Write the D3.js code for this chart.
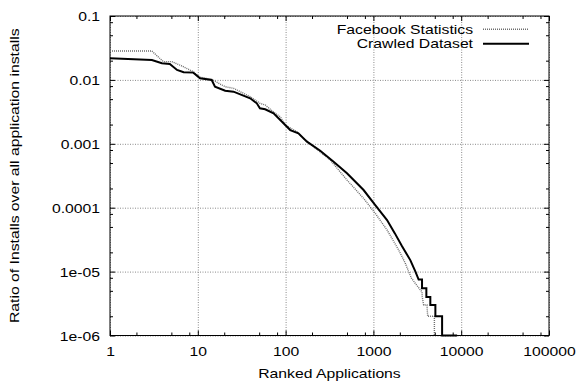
<!DOCTYPE html>
<html>
<head>
<meta charset="utf-8">
<script src="https://cdn.jsdelivr.net/npm/d3@7"></script>
<style>
  body { margin: 0; background: #fff; }
  text { font-family: "Liberation Sans", Arial, Helvetica, sans-serif; font-size: 12.8px; fill: #000; }
</style>
</head>
<body>
<svg id="chart" width="579" height="383"></svg>
<script>
// tick values / labels
const xTicks = [1, 10, 100, 1000, 10000, 100000];
const xTickLabels = ["1", "10", "100", "1000", "10000", "100000"];
const yTicks = [0.1, 0.01, 0.001, 0.0001, 1e-5, 1e-6];
const yTickLabels = ["0.1", "0.01", "0.001", "0.0001", "1e-05", "1e-06"];
const minorSteps = [2, 5, 8];
const seriesNames = ["Facebook Statistics", "Crawled Dataset"];

// Facebook Statistics (dotted grey)
const fbRank = [1, 3, 4.05, 5.05, 6.6, 8.9, 10.6, 14.4, 17.9, 20.5, 25.5, 39.5, 51, 58.5, 76, 87, 99, 134, 160, 208, 323, 500, 773, 1050, 1430, 1940, 2310, 2520, 2700, 3010, 3580, 3600, 3735, 4080, 4150, 4950, 4950];
const fbRatio = [0.0283, 0.0283, 0.0193, 0.0193, 0.0165, 0.0134, 0.0110, 0.0102, 0.00862, 0.00783, 0.00739, 0.00546, 0.0043, 0.00405, 0.0030, 0.00265, 0.00197, 0.00155, 0.00122, 0.000901, 0.000557, 0.000271, 0.00014, 0.0000817, 0.0000448, 0.0000218, 0.0000135, 0.00001, 0.000008, 0.0000065, 0.0000048, 0.000004, 0.000003, 0.000003, 0.000002, 0.000002, 0.000001];

// Crawled Dataset (thick black)
const crawledRank = [1, 3, 3.9, 4.8, 5.8, 6.9, 8.9, 10.6, 14.4, 15.7, 20.5, 25.5, 39.5, 47, 51, 58.5, 73, 91, 113, 140, 175, 248, 352, 500, 773, 1050, 1430, 1750, 2120, 2640, 3010, 3275, 3580, 3580, 4010, 4010, 4450, 4450, 5080, 5080, 6060, 6060, 8980];
const crawledRatio = [0.0218, 0.0205, 0.0182, 0.0177, 0.0143, 0.0132, 0.0130, 0.0106, 0.00996, 0.00783, 0.00678, 0.00654, 0.00515, 0.0043, 0.0036, 0.00347, 0.0030, 0.00222, 0.00164, 0.00146, 0.00108, 0.00078, 0.000525, 0.000345, 0.000189, 0.00011, 0.000064, 0.00004, 0.000025, 0.000015, 0.00001, 0.0000075, 0.0000075, 0.0000055, 0.0000055, 0.000004, 0.000004, 0.000003, 0.000003, 0.000002, 0.000002, 0.000001, 0.000001];

const margin = { top: 16, right: 30, bottom: 47.5, left: 110 },
  width = 579 - margin.left - margin.right,
  height = 383 - margin.top - margin.bottom;
const sx = 1.23; // text is wider than tall in the original

const svg = d3.select("#chart")
  .append("g")
  .attr("transform", "translate(" + margin.left + "," + margin.top + ")");

const x = d3.scaleLog().domain([1, 100000]).range([0, width]);
const y = d3.scaleLog().domain([1e-6, 0.1]).range([height, 0]);

// minor tick values
const xMinor = [], yMinor = [];
xTicks.slice(0, -1).forEach(d => minorSteps.forEach(m => xMinor.push(d * m)));
yTicks.slice(1).forEach(d => minorSteps.forEach(m => yMinor.push(d * m)));

// grid
const grid = svg.append("g").attr("class", "grid");
grid.append("g")
  .attr("transform", "translate(0," + height + ")")
  .call(d3.axisBottom(x).tickValues(xTicks).tickSize(-height).tickFormat(""));
grid.append("g")
  .call(d3.axisLeft(y).tickValues(yTicks).tickSize(-width).tickFormat(""));
grid.selectAll(".domain").remove();
grid.selectAll("line")
  .attr("stroke", "#8a8a8a")
  .attr("stroke-dasharray", "1,1.5");

// inward ticks on all four sides
function ticks(axis, tr, vals, size) {
  const g = svg.append("g").attr("transform", tr)
    .call(axis.tickValues(vals).tickSizeInner(-size).tickSizeOuter(0).tickFormat(""));
  g.select(".domain").remove();
  g.selectAll("line").attr("stroke", "#000");
  return g;
}
ticks(d3.axisBottom(x), "translate(0," + height + ")", xMinor, 3);
ticks(d3.axisTop(x), "translate(0,0)", xMinor, 3);
ticks(d3.axisLeft(y), "translate(0,0)", yMinor, 3);
ticks(d3.axisRight(y), "translate(" + width + ",0)", yMinor, 3);
ticks(d3.axisTop(x), "translate(0,0)", xTicks, 5);
ticks(d3.axisRight(y), "translate(" + width + ",0)", yTicks, 5);

// labelled axes
const xAxis = svg.append("g")
  .attr("transform", "translate(0," + height + ")")
  .call(d3.axisBottom(x).tickValues(xTicks).tickSizeInner(-5).tickSizeOuter(0)
    .tickFormat((d, i) => xTickLabels[i]));
xAxis.select(".domain").remove();
xAxis.selectAll("line").attr("stroke", "#000");
xAxis.selectAll("text")
  .attr("y", 21).attr("dy", null)
  .attr("transform", "scale(" + sx + ",1)")
  .style("font-size", "12.8px").style("font-family", "'Liberation Sans', Arial, sans-serif")
  .attr("fill", "#000");

const yAxis = svg.append("g")
  .call(d3.axisLeft(y).tickValues(yTicks).tickSizeInner(-5).tickSizeOuter(0)
    .tickFormat((d, i) => yTickLabels[i]));
yAxis.select(".domain").remove();
yAxis.selectAll("line").attr("stroke", "#000");
yAxis.selectAll("text")
  .attr("x", -10 / sx).attr("dy", "0.36em")
  .attr("transform", "scale(" + sx + ",1)")
  .style("font-size", "12.8px").style("font-family", "'Liberation Sans', Arial, sans-serif")
  .attr("fill", "#000");

// frame
svg.append("rect")
  .attr("width", width).attr("height", height)
  .attr("fill", "none").attr("stroke", "#000").attr("stroke-width", 1);

// lines
const line = d3.line().x(d => x(d[0])).y(d => y(d[1]));
const fbData = fbRank.map((r, i) => [r, fbRatio[i]]);
const crawledData = crawledRank.map((r, i) => [r, crawledRatio[i]]);

svg.append("path")
  .datum(fbData)
  .attr("fill", "none")
  .attr("stroke", "#6e6e6e")
  .attr("stroke-width", 1.4)
  .attr("stroke-dasharray", "1,1")
  .attr("d", line);

svg.append("path")
  .datum(crawledData)
  .attr("fill", "none")
  .attr("stroke", "#000")
  .attr("stroke-width", 2)
  .attr("d", line);

// legend
const legend = svg.append("g");
const legendRows = [
  { name: seriesNames[0], y: 13.3, color: "#6e6e6e", w: 1.4, dash: "1,1" },
  { name: seriesNames[1], y: 27.7, color: "#000", w: 2, dash: null }
];
legendRows.forEach(r => {
  legend.append("text")
    .attr("transform", "translate(" + (473 - margin.left) + "," + (r.y + 4.6) + ") scale(" + sx + ",1)")
    .attr("text-anchor", "end")
    .text(r.name);
  legend.append("line")
    .attr("x1", 483 - margin.left).attr("x2", 529 - margin.left)
    .attr("y1", r.y).attr("y2", r.y)
    .attr("stroke", r.color).attr("stroke-width", r.w)
    .attr("stroke-dasharray", r.dash);
});

// axis titles
svg.append("text")
  .attr("transform", "translate(" + (width / 2) + "," + (height + 42) + ") scale(" + sx + ",1)")
  .attr("text-anchor", "middle")
  .text("Ranked Applications");

svg.append("text")
  .attr("transform", "translate(" + (19 - margin.left) + "," + (height / 2) + ") rotate(-90) scale(" + sx + ",1)")
  .attr("text-anchor", "middle")
  .text("Ratio of Installs over all application installs");
</script>
</body>
</html>
